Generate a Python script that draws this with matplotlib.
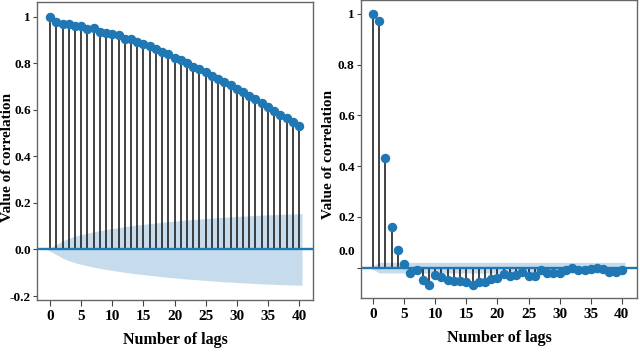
#!/usr/bin/env python3
"""ACF / PACF stem plots, two panels side by side."""

import numpy as np
import matplotlib
matplotlib.use('Agg')
import matplotlib.pyplot as plt
from matplotlib.transforms import ScaledTranslation

# ---------------------------------------------------------------------------
# Data
# ---------------------------------------------------------------------------

lags = list(range(41))

acf_left = [1.000, 0.976, 0.971, 0.967, 0.961, 0.961, 0.948, 0.950, 0.936, 0.931,
            0.926, 0.920, 0.905, 0.903, 0.890, 0.881, 0.876, 0.861, 0.848, 0.840,
            0.825, 0.814, 0.802, 0.784, 0.774, 0.764, 0.745, 0.732, 0.718, 0.705,
            0.688, 0.676, 0.658, 0.645, 0.630, 0.614, 0.596, 0.580, 0.567, 0.550,
            0.531]

# half-width of the shaded confidence band, left panel
band_left = [0.000, 0.022, 0.037, 0.048, 0.057, 0.064, 0.070, 0.076, 0.081, 0.086,
             0.090, 0.094, 0.098, 0.102, 0.105, 0.108, 0.111, 0.114, 0.117, 0.120,
             0.122, 0.125, 0.127, 0.129, 0.131, 0.133, 0.135, 0.137, 0.139, 0.140,
             0.142, 0.143, 0.145, 0.146, 0.148, 0.149, 0.150, 0.151, 0.152, 0.153,
             0.154]

acf_right = [1.000, 0.974, 0.433, 0.162, 0.068, 0.016, -0.020, -0.008, -0.047, -0.067,
             -0.029, -0.035, -0.047, -0.051, -0.051, -0.057, -0.067, -0.057, -0.057, -0.045,
             -0.041, -0.024, -0.034, -0.028, -0.017, -0.034, -0.034, -0.008, -0.020, -0.021,
             -0.021, -0.008, -0.001, -0.008, -0.008, -0.007, 0.000, -0.007, -0.016, -0.016,
             -0.008]

band_right = [0.000] + [0.021] * 40

yticks_left = [-0.2, 0.0, 0.2, 0.4, 0.6, 0.8, 1.0]
yticklabels_left = ['-0.2', '0.0', '0.2', '0.4', '0.6', '0.8', '1']
yticks_right = [0.0, 0.2, 0.4, 0.6, 0.8, 1.0]
yticklabels_right = ['0.0', '0.2', '0.4', '0.6', '0.8', '1']
xticks = [0, 5, 10, 15, 20, 25, 30, 35, 40]

# ---------------------------------------------------------------------------
# Style
# ---------------------------------------------------------------------------

plt.rcParams.update({
    'font.family':       ['Liberation Serif', 'DejaVu Serif'],
    'font.weight':       'bold',
    'axes.edgecolor':    '#666666',
    'axes.linewidth':    1.0,
    'xtick.color':       '#444444',
    'ytick.color':       '#444444',
    'xtick.labelcolor':  'black',
    'ytick.labelcolor':  'black',
    'xtick.major.size':  4,
    'ytick.major.size':  3,
    'ytick.major.pad':   1.5,
    'xtick.labelsize':   11,
    'ytick.labelsize':   9.5,
})

BLUE = '#1f77b4'


def stem_panel(ax, values, half_width, xlim, ylim, yticks, yticklabels, ylabel_x):
    x = np.array(lags, dtype=float)
    ax.vlines(x, 0, values, colors='#222222', lw=1.2, zorder=2)
    ax.axhline(0, color=BLUE, lw=1.7, zorder=3)
    ax.plot(x, values, 'o', color=BLUE, ms=5.8, mec=BLUE, zorder=4)

    # band edges shifted half a lag outward at both ends
    xb = x.copy()
    xb[0] -= 0.5
    xb[-1] += 0.5
    hw = np.array(half_width)
    ax.fill_between(xb, -hw, hw, color=BLUE, alpha=0.25, lw=0, zorder=1)

    ax.set_xlim(*xlim)
    ax.set_ylim(*ylim)
    ax.set_xticks(xticks)
    ax.set_yticks(yticks)
    ax.set_yticklabels(yticklabels)
    ax.set_xlabel('Number of lags', fontsize=11.5, fontweight='bold', labelpad=6)
    ax.set_ylabel('Value of correlation', fontsize=11, fontweight='bold',
                  va='center')
    ax.yaxis.set_label_coords(ylabel_x, 0.48)


fig = plt.figure(figsize=(6.4, 3.55), dpi=100)
ax1 = fig.add_axes([0.058, 0.155, 0.431, 0.839])
ax2 = fig.add_axes([0.564, 0.161, 0.431, 0.839])

stem_panel(ax1, acf_left, band_left, (-2.1, 42.25), (-0.217, 1.063),
           yticks_left, yticklabels_left, -0.109)
stem_panel(ax2, acf_right, band_right, (-1.93, 42.4), (-0.119, 1.055),
           yticks_right, yticklabels_right, -0.118)

# the "0.0" label of the right panel sits above its tick in the reference
lbl = ax2.get_yticklabels()[0]
lbl.set_transform(lbl.get_transform() + ScaledTranslation(0, 17 / 100, fig.dpi_scale_trans))

fig.savefig('out.png', dpi=100)
